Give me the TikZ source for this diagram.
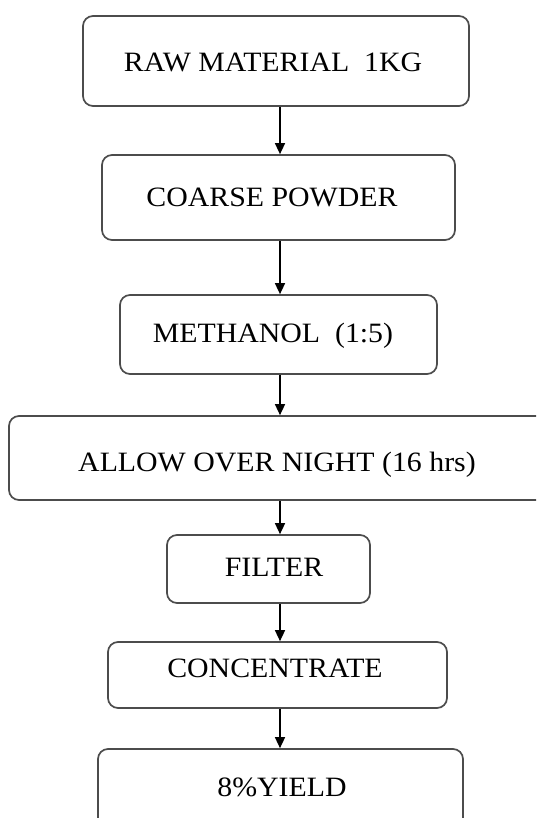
\documentclass[tikz,border=0pt]{standalone}
\usepackage{fontspec}
\setmainfont{Liberation Serif}[FakeStretch=1.065]
\usetikzlibrary{arrows.meta,fit}
\tikzset{
  box/.style={draw=black!70, line width=1.7pt, rounded corners=10pt, inner sep=0pt},
  lbl/.style={font=\fontsize{28}{34}\selectfont, inner sep=0pt, anchor=center},
  arr/.style={draw=black, line width=1.5pt, -{Triangle[width=10pt,length=11pt]}}
}
\begin{document}
\begin{tikzpicture}[x=1pt,y=-1pt]
\useasboundingbox (0,0) rectangle (536,818);
\clip (0,0) rectangle (536,818);
\fill[white] (0,0) rectangle (536,818);
\coordinate (ax) at (280,0);
\node[box, fit={(83,16) (469,106)}] (b1) {};
\node[box, fit={(102,155) (455,240)}] (b2) {};
\node[box, fit={(120,295) (437,374)}] (b3) {};
\node[box, fit={(9,416) (548,500)}] (b4) {};
\node[box, fit={(167,535) (370,603)}] (b5) {};
\node[box, fit={(108,642) (447,708)}] (b6) {};
\node[box, fit={(98,749) (463,870)}] (b7) {};
\node[lbl] (t1) at (273,62) {RAW MATERIAL\ \ 1KG};
\node[lbl] (t2) at (272,197) {COARSE POWDER};
\node[lbl] (t3) at (273,336) {METHANOL\ \ (1:5)};
\node[lbl] (t4) at (277,465) {ALLOW OVER NIGHT (16 hrs)};
\node[lbl] (t5) at (274,567) {FILTER};
\node[lbl] (t6) at (275,668) {CONCENTRATE};
\node[lbl] (t7) at (282,787) {8\%YIELD};
\draw[arr] (b1.south -| ax) -- (b2.north -| ax);
\draw[arr] (b2.south -| ax) -- (b3.north -| ax);
\draw[arr] (b3.south -| ax) -- (b4.north -| ax);
\draw[arr] (b4.south -| ax) -- (b5.north -| ax);
\draw[arr] (b5.south -| ax) -- (b6.north -| ax);
\draw[arr] (b6.south -| ax) -- (b7.north -| ax);
\end{tikzpicture}
\end{document}
